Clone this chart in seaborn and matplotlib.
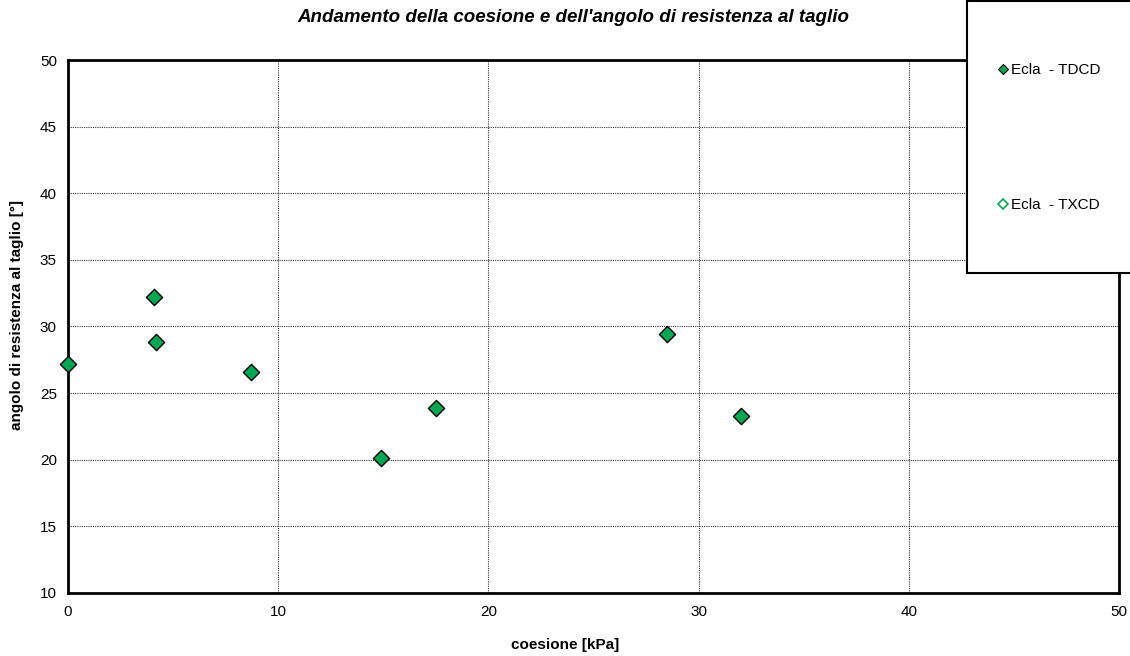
import matplotlib
matplotlib.use("Agg")
import matplotlib.pyplot as plt
from matplotlib.lines import Line2D
from matplotlib.patches import Rectangle
from matplotlib.ticker import MultipleLocator
import seaborn as sns
import pandas as pd

# Shear test results: cohesion [kPa] vs friction angle [deg]
coesione_tdcd = [0.0, 4.1, 4.2, 8.7, 14.9, 17.5, 28.5, 32.0]
angolo_tdcd = [27.2, 32.2, 28.8, 26.6, 20.1, 23.9, 29.4, 23.3]
coesione_txcd = []
angolo_txcd = []

series_labels = ["Ecla  - TDCD", "Ecla  - TXCD"]
x_ticks = [0, 10, 20, 30, 40, 50]
y_ticks = [10, 15, 20, 25, 30, 35, 40, 45, 50]

green = "#00A651"

sns.set_style("white")
plt.rcParams["font.family"] = ["Liberation Sans", "DejaVu Sans"]
plt.rcParams["text.color"] = "black"
plt.rcParams["xtick.color"] = "black"
plt.rcParams["ytick.color"] = "black"

df = pd.DataFrame({"coesione": coesione_tdcd, "angolo": angolo_tdcd})

fig = plt.figure(figsize=(11.30, 6.56), dpi=100)
ax = fig.add_axes([68 / 1130, 1 - 593 / 656, (1119 - 68) / 1130, (593 - 60) / 656])

sns.scatterplot(data=df, x="coesione", y="angolo", marker="D", s=68,
                color=green, edgecolor="black", linewidth=1.0,
                ax=ax, legend=False, zorder=5, clip_on=False)
if coesione_txcd:
    ax.scatter(coesione_txcd, angolo_txcd, marker="D", s=68,
               facecolor="white", edgecolor=green, zorder=5)

ax.set_xlim(x_ticks[0], x_ticks[-1])
ax.set_ylim(y_ticks[0], y_ticks[-1])
ax.set_xticks(x_ticks)
ax.set_yticks(y_ticks)
ax.xaxis.set_minor_locator(MultipleLocator(2))
ax.yaxis.set_minor_locator(MultipleLocator(1))
ax.tick_params(axis="both", which="major", length=0, labelsize=11, labelcolor="black")
ax.tick_params(axis="x", which="major", pad=9)
ax.tick_params(axis="y", which="major", pad=8)
ax.tick_params(axis="both", which="minor", direction="in", length=3.5,
               width=0.8, color="#888888")
ax.grid(True, which="major", color="#333333", linestyle=(0, (1, 1)), linewidth=0.8)
ax.set_axisbelow(True)
for sp in ax.spines.values():
    sp.set_visible(True)
    sp.set_color("black")
    sp.set_linewidth(2.0)

ax.set_xlabel("")
ax.set_ylabel("")
fig.text(565 / 1130, 1 - 645 / 656, "coesione [kPa]", ha="center", va="center",
         fontsize=11, fontweight="bold", color="black")
fig.text(17 / 1130, 1 - 315 / 656, "angolo di resistenza al taglio [°]", ha="center",
         va="center", rotation=90, fontsize=11, fontweight="bold", color="black")
fig.text(573 / 1130, 1 - 18 / 656, "Andamento della coesione e dell'angolo di resistenza al taglio",
         ha="center", va="center", fontsize=13.5, fontweight="bold", style="italic",
         color="black")

# Legend box in the upper right corner
fig.patches.append(Rectangle((967 / 1130, 1 - 273 / 656), 200 / 1130, 272 / 656,
                             transform=fig.transFigure, facecolor="white",
                             edgecolor="black", linewidth=1.5, zorder=10))
handles = [
    Line2D([], [], marker="D", linestyle="none", markersize=5.5,
           markerfacecolor=green, markeredgecolor="black", markeredgewidth=0.8),
    Line2D([], [], marker="D", linestyle="none", markersize=5.5,
           markerfacecolor="white", markeredgecolor=green, markeredgewidth=1.2),
]
leg = fig.legend(handles, series_labels, loc="upper left",
                 bbox_to_anchor=(998 / 1130, 1 - 63 / 656), frameon=False,
                 fontsize=11, handlelength=0.6, handletextpad=0.25,
                 labelspacing=7.95, borderpad=0, borderaxespad=0)
for t in leg.get_texts():
    t.set_color("black")
leg.set_zorder(11)

fig.savefig("out.png", dpi=100)
